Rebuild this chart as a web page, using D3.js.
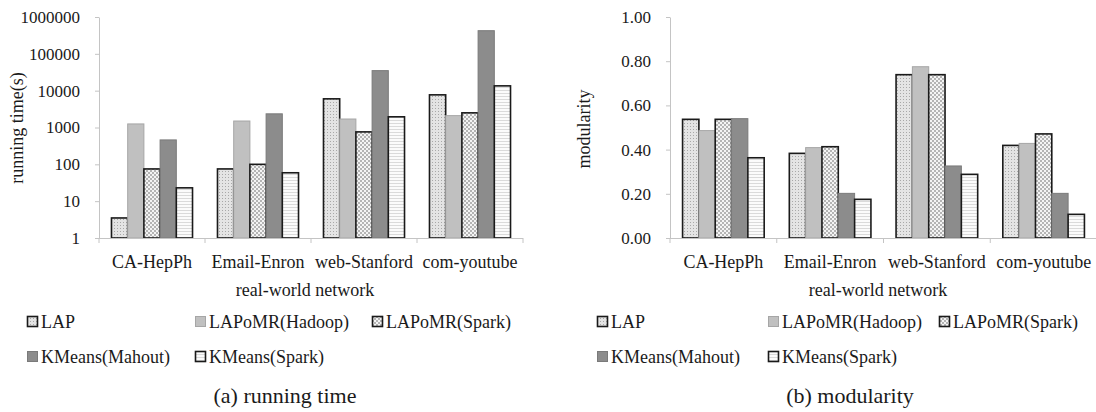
<!DOCTYPE html>
<html>
<head>
<meta charset="utf-8">
<script src="https://cdn.jsdelivr.net/npm/d3@7"></script>
<style>
  html, body { margin: 0; padding: 0; background: #fff; }
  svg { display: block; }
  text { font-family: 'Liberation Serif', 'Times New Roman', serif; fill: #1a1a1a; }
</style>
</head>
<body>
<div id="chart"></div>
<script>
/* categories + series */
const categories = ['CA-HepPh', 'Email-Enron', 'web-Stanford', 'com-youtube'];
const seriesNames = ['LAP', 'LAPoMR(Hadoop)', 'LAPoMR(Spark)', 'KMeans(Mahout)', 'KMeans(Spark)'];

/* (a) running time, seconds (log axis) */
const timeLAP      = [3.5, 75, 6000, 7700];
const timeHadoop   = [1250, 1500, 1700, 2100];
const timeSparkLAP = [75, 100, 760, 2500];
const timeMahout   = [460, 2350, 35000, 425000];
const timeKMSpark  = [23, 59, 1950, 13500];
const timeTicks    = [1, 10, 100, 1000, 10000, 100000, 1000000];

/* (b) modularity */
const modLAP      = [0.537, 0.383, 0.739, 0.419];
const modHadoop   = [0.486, 0.409, 0.775, 0.428];
const modSparkLAP = [0.537, 0.413, 0.739, 0.471];
const modMahout   = [0.540, 0.202, 0.326, 0.202];
const modKMSpark  = [0.363, 0.175, 0.288, 0.107];
const modTicks    = [0, 0.2, 0.4, 0.6, 0.8, 1.0];

const W = 1096, H = 412;

const svg = d3.select('#chart').append('svg')
  .attr('width', W).attr('height', H);

/* ── fill patterns ── */
const defs = svg.append('defs');

const pDots = defs.append('pattern').attr('id', 'pDots')
  .attr('width', 3).attr('height', 3).attr('patternUnits', 'userSpaceOnUse');
pDots.append('rect').attr('width', 3).attr('height', 3).attr('fill', '#e4e4e4');
pDots.append('rect').attr('x', 0).attr('y', 0).attr('width', 1).attr('height', 1).attr('fill', '#a8a8a8');

const pCheck = defs.append('pattern').attr('id', 'pCheck')
  .attr('width', 4).attr('height', 4).attr('patternUnits', 'userSpaceOnUse');
pCheck.append('rect').attr('width', 4).attr('height', 4).attr('fill', '#f4f4f4');
pCheck.append('rect').attr('x', 0).attr('y', 0).attr('width', 2).attr('height', 2).attr('fill', '#b4b4b4');
pCheck.append('rect').attr('x', 2).attr('y', 2).attr('width', 2).attr('height', 2).attr('fill', '#b4b4b4');

const pLines = defs.append('pattern').attr('id', 'pLines')
  .attr('width', 4).attr('height', 3).attr('patternUnits', 'userSpaceOnUse');
pLines.append('rect').attr('width', 4).attr('height', 3).attr('fill', '#fbfbfb');
pLines.append('rect').attr('y', 0).attr('width', 4).attr('height', 1).attr('fill', '#dadada');

const SERIES_STYLE = [
  { fill: 'url(#pDots)',  stroke: '#1a1a1a', sw: 1.6 },
  { fill: '#c0c0c0',      stroke: '#a6a6a6', sw: 1 },
  { fill: 'url(#pCheck)', stroke: '#1a1a1a', sw: 1.6 },
  { fill: '#8c8c8c',      stroke: '#7a7a7a', sw: 1 },
  { fill: 'url(#pLines)', stroke: '#1a1a1a', sw: 1.6 },
];

function drawPanel(cfg) {
  const g = svg.append('g');

  const x0 = d3.scaleBand().domain(categories)
    .range([cfg.left, cfg.right]).paddingInner(0).paddingOuter(0);
  const x1 = d3.scaleBand().domain(seriesNames)
    .range([0, x0.bandwidth()]).paddingInner(0).paddingOuter(0.77);
  const y = cfg.y;
  const base = y.range()[0];

  /* bars */
  categories.forEach((cat, ci) => {
    cfg.series.forEach((vals, si) => {
      const st = SERIES_STYLE[si];
      g.append('rect')
        .attr('x', x0(cat) + x1(seriesNames[si]))
        .attr('y', y(vals[ci]))
        .attr('width', x1.bandwidth())
        .attr('height', base - y(vals[ci]))
        .attr('fill', st.fill)
        .attr('stroke', st.stroke)
        .attr('stroke-width', st.sw);
    });
  });

  /* y axis */
  const ya = g.append('g')
    .attr('transform', `translate(${cfg.left},0)`)
    .call(d3.axisLeft(y).tickValues(cfg.ticks).tickFormat(cfg.fmt).tickSizeInner(4).tickSizeOuter(0).tickPadding(15));
  ya.select('.domain').attr('stroke', '#c4c4c4');
  ya.selectAll('.tick line').attr('stroke', '#c4c4c4');
  ya.selectAll('.tick text').attr('font-size', 17).attr('fill', '#1a1a1a')
    .style('font-family', "'Liberation Serif', serif");

  /* x axis */
  const xa = g.append('g')
    .attr('transform', `translate(0,${base})`)
    .call(d3.axisBottom(x0).tickSize(0).tickPadding(17));
  xa.select('.domain').attr('stroke', '#c4c4c4').attr('d', `M${cfg.left},0.5H${cfg.right}`);
  xa.selectAll('.tick text').attr('font-size', 18).attr('fill', '#1a1a1a')
    .style('font-family', "'Liberation Serif', serif");
  /* category boundary ticks */
  const bounds = categories.map(c => x0(c)).concat([cfg.right]);
  xa.selectAll('.bound').data(bounds).join('line')
    .attr('class', 'bound')
    .attr('x1', d => d).attr('x2', d => d)
    .attr('y1', 0).attr('y2', 5)
    .attr('stroke', '#c4c4c4');

  /* axis titles */
  g.append('text')
    .attr('transform', `translate(${cfg.yTitleX},${cfg.yTitleY}) rotate(-90)`)
    .attr('text-anchor', 'middle')
    .attr('font-size', 18)
    .text(cfg.yTitle);
  g.append('text')
    .attr('x', cfg.xTitleX).attr('y', 296)
    .attr('text-anchor', 'middle')
    .attr('font-size', 18)
    .text('real-world network');

  /* legend */
  const rows = [[0, 1, 2], [3, 4]];
  rows.forEach((row, ri) => {
    row.forEach((si, k) => {
      const lx = cfg.legendX[k];
      const ly = 316 + ri * 35;
      const st = SERIES_STYLE[si];
      g.append('rect')
        .attr('x', lx + 0.5).attr('y', ly + 0.5)
        .attr('width', 10).attr('height', 10)
        .attr('fill', st.fill)
        .attr('stroke', si === 1 || si === 3 ? st.stroke : '#1a1a1a')
        .attr('stroke-width', si === 1 || si === 3 ? 1 : 1.6);
      g.append('text')
        .attr('x', lx + 14).attr('y', ly + 12)
        .attr('font-size', 18)
        .text(seriesNames[si]);
    });
  });

  /* caption */
  g.append('text')
    .attr('x', cfg.captionX).attr('y', 403)
    .attr('text-anchor', 'middle')
    .attr('font-size', 22)
    .text(cfg.caption);
}

drawPanel({
  left: 99, right: 523,
  y: d3.scaleLog().domain([1, 1000000]).range([238, 17]),
  ticks: timeTicks,
  fmt: d3.format('d'),
  series: [timeLAP, timeHadoop, timeSparkLAP, timeMahout, timeKMSpark],
  yTitle: 'running time(s)', yTitleX: 23, yTitleY: 128,
  xTitleX: 305,
  legendX: [27, 195, 372],
  caption: '(a) running time', captionX: 285,
});

drawPanel({
  left: 670, right: 1097,
  y: d3.scaleLinear().domain([0, 1]).range([238, 17]),
  ticks: modTicks,
  fmt: d3.format('.2f'),
  series: [modLAP, modHadoop, modSparkLAP, modMahout, modKMSpark],
  yTitle: 'modularity', yTitleX: 590, yTitleY: 129,
  xTitleX: 878,
  legendX: [597, 768, 939],
  caption: '(b) modularity', captionX: 850,
});
</script>
</body>
</html>
